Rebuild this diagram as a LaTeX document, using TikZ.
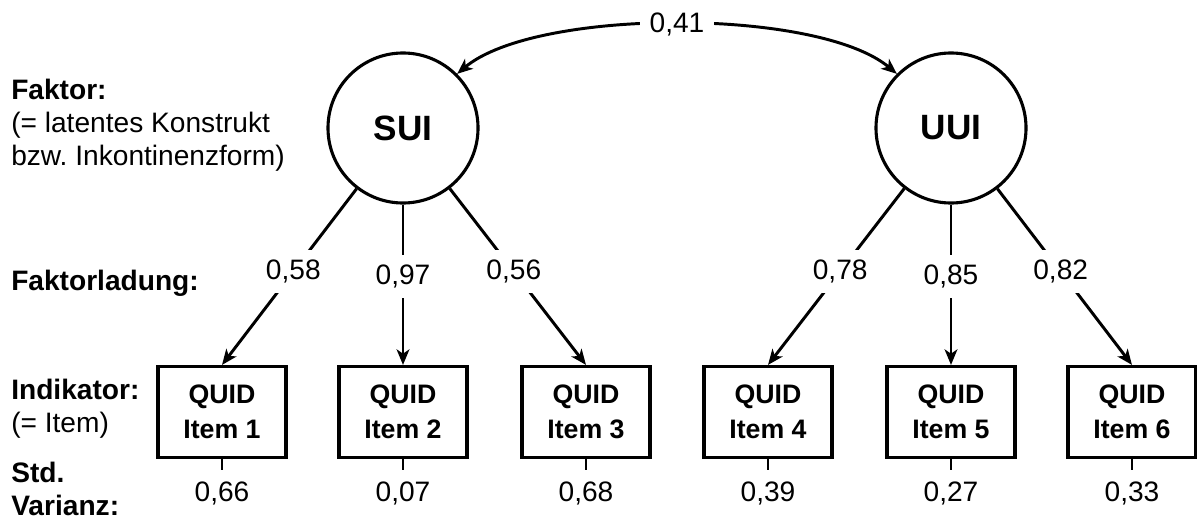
\documentclass[tikz,border=0pt]{standalone}
\usepackage{fontspec}
\setmainfont{Liberation Sans}
\usetikzlibrary{arrows.meta, positioning}

\begin{document}
\begin{tikzpicture}[
    x=0.025cm, y=0.025cm,
    factor/.style = {circle, draw=black, line width=2.2pt, minimum size=3.75cm, inner sep=0pt, font=\fontsize{25}{30}\selectfont\bfseries},
    item/.style = {rectangle, draw=black, line width=2.2pt, minimum width=3.2cm, minimum height=2.275cm, align=center, font=\fontsize{19}{25}\selectfont\bfseries},
    load/.style = {draw=black, line width=2.1pt, -{Stealth[length=11pt, width=9pt, inset=3pt]}},
    corr/.style = {draw=black, line width=2.1pt, {Stealth[length=11pt, width=9pt, inset=3pt]}-{Stealth[length=11pt, width=9pt, inset=3pt]}},
    num/.style = {fill=white, inner xsep=3pt, inner ysep=7pt, font=\fontsize{20}{24}\selectfont},
    varnum/.style = {inner xsep=3pt, inner ysep=8pt, font=\fontsize{20}{24}\selectfont},
    tick/.style = {draw=black, line width=2.1pt},
    caption/.style = {anchor=west, align=left, inner sep=0pt, font=\fontsize{20}{23.5}\selectfont}
]
\useasboundingbox (0,0) rectangle (1197,522);

% Factors
\node (sui) [factor] at (403, 394) {SUI};
\node (uui) [factor] at (951, 394) {UUI};

% Indicators
\node (item1) [item] at (222, 110) {QUID\\Item 1};
\node (item2) [item] at (403, 110) {QUID\\Item 2};
\node (item3) [item] at (586, 110) {QUID\\Item 3};
\node (item4) [item] at (768, 110) {QUID\\Item 4};
\node (item5) [item] at (951, 110) {QUID\\Item 5};
\node (item6) [item] at (1132, 110) {QUID\\Item 6};

% Variances
\node (var1) [varnum] at (222, 29) {0,66};
\node (var2) [varnum] at (403, 29) {0,07};
\node (var3) [varnum] at (586, 29) {0,68};
\node (var4) [varnum] at (768, 29) {0,39};
\node (var5) [varnum] at (951, 29) {0,27};
\node (var6) [varnum] at (1132, 29) {0,33};

\draw [tick] (item1) -- (var1);
\draw [tick] (item2) -- (var2);
\draw [tick] (item3) -- (var3);
\draw [tick] (item4) -- (var4);
\draw [tick] (item5) -- (var5);
\draw [tick] (item6) -- (var6);

% Loadings
\draw [load] (sui) -- node[num, pos=0.47]{0,58} (item1.north);
\draw [load] (sui) -- node[num, pos=0.45]{0,97} (item2.north);
\draw [load] (sui) -- node[num, pos=0.47]{0,56} (item3.north);
\draw [load] (uui) -- node[num, pos=0.47]{0,78} (item4.north);
\draw [load] (uui) -- node[num, pos=0.45]{0,85} (item5.north);
\draw [load] (uui) -- node[num, pos=0.47]{0,82} (item6.north);

% Correlation
\draw [corr] (sui.45) to[out=40, in=140, looseness=0.6] node[num, inner xsep=7pt, inner ysep=3pt]{0,41} (uui.135);

% Captions
\node (capfactor) [caption] at (11, 397) {\textbf{Faktor:}\\(= latentes Konstrukt\\bzw.\ Inkontinenzform)};
\node (caploading) [caption] at (11, 239) {\textbf{Faktorladung:}};
\node (capindicator) [caption] at (11, 113) {\textbf{Indikator:}\\(= Item)};
\node (capvariance) [caption] at (11, 33) {\textbf{Std.}\\\textbf{Varianz:}};

\end{tikzpicture}
\end{document}
